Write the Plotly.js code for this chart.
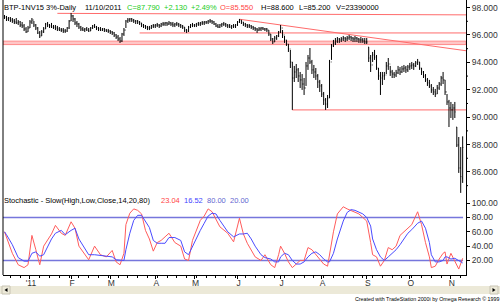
<!DOCTYPE html>
<html><head><meta charset="utf-8">
<script src="https://cdn.plot.ly/plotly-3.0.1.min.js"></script>
<style>html,body{margin:0;padding:0;background:#fff;}#chart{width:500px;height:303px;}</style>
</head><body><div id="chart"></div>
<script>
// ---- data ----
const opens = [97.38,97.31,97.17,97.24,97.09,97.02,96.95,96.88,96.95,96.73,
96.66,96.44,96.22,96.51,96.95,97.09,96.73,96.51,96.15,95.93,
96.22,96.44,96.80,96.73,96.66,96.58,96.58,96.51,96.44,96.36,
96.36,96.29,96.29,96.51,97.02,97.39,97.17,96.88,96.80,96.58,
96.44,96.36,96.44,96.36,96.29,96.51,96.66,96.58,96.51,96.44,
96.36,96.44,96.36,96.29,96.29,96.22,96.15,96.00,95.85,95.71,
95.56,96.07,96.36,97.02,97.09,97.17,97.09,97.02,97.02,96.95,
96.88,96.73,96.66,96.58,96.51,96.51,96.66,96.66,96.73,96.73,
96.66,96.80,96.80,96.88,96.80,96.88,96.80,96.73,96.80,96.80,
96.73,96.66,96.58,96.36,96.29,96.58,96.73,96.73,96.73,96.80,
96.80,96.88,96.88,96.95,96.95,97.02,97.02,96.95,96.80,96.66,
96.58,96.73,96.80,96.80,96.73,96.66,96.58,96.66,96.66,96.73,
96.95,97.09,96.95,96.80,96.73,96.66,96.66,96.58,96.51,96.44,
96.36,96.44,96.51,96.44,96.44,96.36,96.07,95.71,95.49,95.78,
95.93,96.22,96.51,96.00,95.64,95.34,94.98,94.03,92.86,93.30,
93.45,93.01,92.72,92.42,92.13,93.74,94.32,94.03,93.45,93.30,
93.01,92.57,92.28,91.69,91.26,90.96,91.40,94.03,95.20,95.42,
95.56,95.71,95.64,95.71,95.78,95.71,95.78,95.85,95.78,95.71,
95.78,95.71,95.64,95.64,95.56,95.49,95.12,94.32,93.81,94.54,
94.39,93.59,93.01,92.86,93.01,93.08,93.74,93.88,93.30,93.15,
93.08,93.23,93.45,93.30,93.52,93.59,93.45,93.66,93.74,93.81,
93.74,93.96,94.03,93.59,93.30,93.01,92.72,92.50,92.28,91.99,
91.84,91.69,92.13,92.42,92.86,92.72,91.84,91.11,90.67,90.53,
90.67,89.28,87.97,86.29,85.55];
const highs = [97.46,97.39,97.31,97.31,97.24,97.17,97.24,97.09,97.02,96.95,
96.80,96.58,96.66,97.09,97.24,97.02,96.80,96.58,96.29,96.36,
96.58,96.88,96.95,96.80,96.88,96.73,96.73,96.66,96.58,96.51,
96.51,96.44,96.58,97.09,97.61,97.46,97.24,97.02,96.88,96.66,
96.58,96.51,96.58,96.51,96.58,96.73,96.80,96.66,96.58,96.58,
96.51,96.51,96.44,96.44,96.36,96.29,96.22,96.07,96.00,95.85,
96.15,96.51,97.09,97.24,97.24,97.24,97.17,97.09,97.09,97.02,
96.88,96.80,96.73,96.66,96.66,96.73,96.80,96.80,96.88,96.80,
96.88,96.95,96.95,96.95,97.02,96.95,96.95,96.88,96.95,96.88,
96.80,96.73,96.58,96.44,96.66,96.80,96.88,96.80,96.88,96.95,
96.95,97.02,97.02,97.02,97.09,97.17,97.09,97.02,96.88,96.80,
96.80,96.88,96.95,96.88,96.80,96.80,96.73,96.80,96.80,97.02,
97.17,97.09,96.95,96.88,96.80,96.80,96.73,96.66,96.58,96.51,
96.58,96.58,96.58,96.51,96.51,96.36,96.07,95.78,95.93,96.00,
96.29,96.73,96.36,95.93,95.64,95.34,94.91,94.03,93.74,93.88,
93.59,93.30,93.15,92.86,94.03,94.54,95.05,94.18,93.81,93.59,
93.15,92.72,92.42,91.84,91.40,91.62,94.18,95.34,95.64,95.78,
95.85,95.78,95.85,95.93,95.85,95.93,96.00,95.93,95.85,95.93,
95.85,95.78,95.85,95.78,95.78,95.78,95.12,94.54,94.76,94.91,
94.54,93.59,93.30,93.30,93.30,94.03,94.32,93.74,93.45,93.30,
93.45,93.74,93.66,93.74,93.81,93.74,93.81,93.96,94.03,93.96,
94.10,94.25,94.03,93.59,93.37,93.15,92.86,92.72,92.42,92.20,
92.06,92.35,92.57,93.01,93.30,92.72,91.69,91.26,91.11,90.96,
91.11,89.28,88.55,87.82,88.60];
const lows = [97.17,97.02,97.02,96.95,96.88,96.80,96.80,96.73,96.58,96.51,
96.29,96.15,96.22,96.51,96.80,96.58,96.36,96.07,95.78,95.93,
96.15,96.44,96.58,96.51,96.51,96.44,96.36,96.29,96.29,96.22,
96.15,96.15,96.22,96.44,97.02,96.95,96.73,96.58,96.44,96.29,
96.29,96.22,96.29,96.22,96.29,96.44,96.51,96.36,96.29,96.29,
96.29,96.22,96.22,96.15,96.07,96.00,95.85,95.71,95.56,95.42,
95.49,95.93,96.51,96.88,96.95,96.95,96.88,96.80,96.80,96.73,
96.58,96.51,96.44,96.36,96.36,96.44,96.51,96.51,96.58,96.51,
96.58,96.66,96.66,96.66,96.73,96.66,96.58,96.58,96.66,96.58,
96.51,96.44,96.22,96.15,96.22,96.51,96.58,96.58,96.58,96.66,
96.66,96.73,96.73,96.80,96.80,96.88,96.80,96.73,96.58,96.51,
96.51,96.58,96.66,96.58,96.51,96.51,96.44,96.51,96.51,96.66,
96.88,96.80,96.66,96.58,96.51,96.51,96.44,96.36,96.29,96.15,
96.29,96.29,96.36,96.29,96.22,95.93,95.56,95.34,95.49,95.64,
95.85,96.15,95.78,95.42,95.20,94.76,93.59,90.53,92.57,92.86,
92.57,92.13,91.99,91.62,92.28,93.45,93.88,93.15,92.86,92.72,
92.13,91.84,91.47,90.89,90.53,90.67,91.40,94.18,95.12,95.27,
95.42,95.42,95.49,95.56,95.49,95.56,95.64,95.56,95.49,95.49,
95.49,95.42,95.42,95.42,95.34,95.34,94.03,93.30,94.03,94.18,
93.45,92.72,91.62,92.35,92.72,93.15,93.45,93.01,92.86,92.86,
92.93,93.15,93.08,93.23,93.30,93.23,93.30,93.45,93.52,93.45,
93.66,93.81,93.45,93.08,92.86,92.57,92.28,92.13,91.77,91.62,
91.47,91.69,91.99,92.28,92.42,91.62,90.89,89.28,89.94,89.80,
89.94,87.82,85.93,84.47,85.20];
const closes = [97.31,97.17,97.24,97.09,97.02,96.95,96.88,96.95,96.73,96.66,
96.44,96.22,96.51,96.95,97.09,96.73,96.51,96.15,95.93,96.22,
96.44,96.80,96.73,96.66,96.58,96.58,96.51,96.44,96.36,96.36,
96.29,96.29,96.51,97.02,97.39,97.17,96.88,96.80,96.58,96.44,
96.36,96.44,96.36,96.29,96.51,96.66,96.58,96.51,96.44,96.36,
96.44,96.36,96.29,96.29,96.22,96.15,96.00,95.85,95.71,95.56,
96.07,96.36,97.02,97.09,97.17,97.09,97.02,97.02,96.95,96.88,
96.73,96.66,96.58,96.51,96.51,96.66,96.66,96.73,96.73,96.66,
96.80,96.80,96.88,96.80,96.88,96.80,96.73,96.80,96.80,96.73,
96.66,96.58,96.36,96.29,96.58,96.73,96.73,96.73,96.80,96.80,
96.88,96.88,96.95,96.95,97.02,97.02,96.95,96.80,96.66,96.58,
96.73,96.80,96.80,96.73,96.66,96.58,96.66,96.66,96.73,96.95,
97.09,96.95,96.80,96.73,96.66,96.66,96.58,96.51,96.44,96.36,
96.44,96.51,96.44,96.44,96.36,96.07,95.71,95.49,95.78,95.93,
96.22,96.51,96.00,95.64,95.34,94.98,94.03,92.86,93.30,93.45,
93.01,92.72,92.42,92.13,93.74,94.32,94.03,93.45,93.30,93.01,
92.57,92.28,91.69,91.26,90.96,91.40,94.03,95.20,95.42,95.56,
95.71,95.64,95.71,95.78,95.71,95.78,95.85,95.78,95.71,95.78,
95.71,95.64,95.64,95.56,95.49,95.49,94.32,93.81,94.54,94.39,
93.59,93.01,92.86,93.01,93.08,93.74,93.88,93.30,93.15,93.08,
93.23,93.45,93.30,93.52,93.59,93.45,93.66,93.74,93.81,93.74,
93.96,94.03,93.59,93.30,93.01,92.72,92.50,92.28,91.99,91.84,
91.69,92.13,92.42,92.86,92.72,91.84,91.11,90.67,90.53,90.67,
90.38,87.97,86.29,85.66,87.79];

const monthTickIdx  = [13,34,54,77,97,119,141,162,185,207,228];
const monthTickText = ["'11","F","M","A","M","J","J","A","S","O","N"];

const stochIdx = [0,1,4,7,10,12,14,16,18,20,24,26,29,31,34,36,38,43,46,49,52,55,57,59,61,62,64,66,68,70,72,74,76,78,80,82,84,87,90,92,94,96,100,102,104,106,108,110,114,117,120,122,124,126,128,131,133,136,138,140,141,143,145,147,149,151,153,155,157,159,161,163,165,166,168,170,173,175,177,179,181,183,185,187,188,190,192,194,196,198,200,202,204,206,208,211,213,215,217,218,220,222,224,225,226,228,230,232,234];
const slowK = [60,53,30,14,10,14,55,35,14,40,57,69,58,55,74,65,40,21,40,28,25,34,18,14,30,70,86,92,90,85,62,50,33,45,48,53,58,45,40,22,20,48,76,82,92,88,78,67,58,46,79,57,44,35,25,20,28,14,10,28,40,30,18,10,15,20,20,38,35,28,22,15,12,30,60,85,95,92,90,88,85,80,75,45,28,25,12,20,38,35,40,55,60,65,70,88,70,45,25,10,12,22,30,32,15,30,18,8,23.04];
const slowD = [60,56,42,24,19,19,30,32,26,28,50,58,62,56,62,65,50,28,28,27,25,25,21,20,20,35,58,76,83,83,75,66,48,44,44,44,52,52,48,32,28,40,62,72,82,86,85,76,60,53,57,57,58,50,40,28,24,22,18,18,25,30,28,20,15,15,18,25,30,32,28,22,18,18,30,50,75,87,91,90,88,85,80,68,50,35,25,20,25,30,35,42,50,58,63,72,75,65,45,28,18,18,20,25,25,22,23,20,16.52];

const priceTicks = [86,88,90,92,94,96,98];
const priceMinorTicks = [85,87,89,91,93,95,97];
const stochTicks = [20,40,60,80,100];

// ---- layout helpers (pixel placement) ----
const L=3, R=466, T=0, B=275;
const PX = px => (px-L)/(R-L);
const PY = py => (B-py)/(B-T);
const FONT = "Liberation Sans, Arial, sans-serif";
const barIndex = closes.map((_, i) => i);
const xEnd = 235.7, xStart = -0.77;

function ann(text, px, py, color, size, anchor) {
  return {text, xref:'paper', yref:'paper', x:PX(px), y:PY(py), xanchor:anchor||'left', yanchor:'middle',
    showarrow:false, borderpad:0, font:{family:FONT, size:size||7.5, color:color||'#000'}};
}

const traces = [
  {type:'ohlc', x:barIndex, open:opens, high:highs, low:lows, close:closes, xaxis:'x', yaxis:'y',
   increasing:{line:{color:'#000', width:1}}, decreasing:{line:{color:'#000', width:1}}, tickwidth:0.3, hoverinfo:'skip'},
  {type:'scatter', mode:'lines', x:stochIdx, y:slowK, xaxis:'x', yaxis:'y2', line:{color:'#ff5c5c', width:1}, hoverinfo:'skip'},
  {type:'scatter', mode:'lines', x:stochIdx, y:slowD, xaxis:'x', yaxis:'y2', line:{color:'#4b4bff', width:1}, hoverinfo:'skip'}
];

const red = '#ff6b6b';
const shapes = [
  {type:'rect', xref:'x', yref:'y', x0:xStart, x1:xEnd, y0:95.30, y1:95.55, fillcolor:'#ffc6c6', line:{color:'#ff8a8a', width:1}, layer:'below'},
  {type:'line', xref:'x', yref:'y', x0:27, y0:97.58, x1:xEnd, y1:97.47, line:{color:red, width:1}, layer:'below'},
  {type:'line', xref:'x', yref:'y', x0:69, y0:96.15, x1:xEnd, y1:96.15, line:{color:red, width:1}, layer:'below'},
  {type:'line', xref:'x', yref:'y', x0:120, y0:97.15, x1:xEnd, y1:94.85, line:{color:red, width:1}, layer:'below'},
  {type:'line', xref:'x', yref:'y', x0:147, y0:90.53, x1:xEnd, y1:90.53, line:{color:red, width:1}, layer:'below'},
  {type:'line', xref:'x', yref:'y2', x0:xStart, y0:80, x1:234.2, y1:80, line:{color:'#7676dc', width:1.5}, layer:'below'},
  {type:'line', xref:'x', yref:'y2', x0:xStart, y0:20, x1:234.2, y1:20, line:{color:'#7676dc', width:1.5}, layer:'below'},
  // left frame line
  {type:'line', xref:'paper', yref:'paper', x0:0, x1:0, y0:0, y1:1, line:{color:'#000', width:1}},
  // scrollbar
  {type:'rect', xref:'paper', yref:'paper', x0:PX(0), x1:PX(500), y0:PY(294), y1:PY(286), fillcolor:'#ece9d8', line:{width:0}},
  {type:'rect', xref:'paper', yref:'paper', x0:PX(2), x1:PX(10), y0:PY(294), y1:PY(286), fillcolor:'#ece9d8', line:{color:'#c8c4b4', width:1}},
  {type:'rect', xref:'paper', yref:'paper', x0:PX(490), x1:PX(498), y0:PY(294), y1:PY(286), fillcolor:'#ece9d8', line:{color:'#c8c4b4', width:1}},
  {type:'path', xref:'paper', yref:'paper', path:`M ${PX(7.5)},${PY(288)} L ${PX(4.5)},${PY(290)} L ${PX(7.5)},${PY(292)} Z`, fillcolor:'#000', line:{width:0}},
  {type:'path', xref:'paper', yref:'paper', path:`M ${PX(492.5)},${PY(288)} L ${PX(495.5)},${PY(290)} L ${PX(492.5)},${PY(292)} Z`, fillcolor:'#000', line:{width:0}}
].concat(priceMinorTicks.map(v => ({type:'line', xref:'paper', yref:'y', x0:1, x1:PX(468), y0:v, y1:v, line:{color:'#000', width:1}})));

const annotations = [
  ann('BTP-1NV15 3%-Daily', 3, 7),
  ann('11/10/2011', 84, 7),
  ann('C=87.790', 126, 7, '#22cc22'),
  ann('+2.130', 163, 7, '#22cc22'),
  ann('+2.49%', 190, 7, '#22cc22'),
  ann('O=85.550', 219, 7, '#ff4444'),
  ann('H=88.600', 260, 7),
  ann('L=85.200', 298, 7),
  ann('V=23390000', 335, 7),
  ann('Stochastic - Slow(High,Low,Close,14,20,80)', 3, 200),
  ann('23.04', 160, 200, '#ff4444'),
  ann('16.52', 183, 200, '#4444ff'),
  ann('80.00', 206, 200, '#6464d0'),
  ann('20.00', 229, 200, '#6464d0'),
  ann('Created with TradeStation 2000i by Omega Research \u00a9 1999', 500, 298.5, '#000', 5.3, 'right')
];

const axisCommon = {showgrid:false, zeroline:false, fixedrange:true, linecolor:'#000', linewidth:1,
  tickcolor:'#000', tickfont:{family:FONT, size:8.5, color:'#333'}};

const layout = {
  width:500, height:303, margin:{l:L, r:500-R, t:T, b:303-B, pad:0},
  paper_bgcolor:'#fff', plot_bgcolor:'#fff', showlegend:false, hovermode:false,
  xaxis:Object.assign({}, axisCommon, {domain:[0,1], range:[xStart, xEnd], anchor:'y2', showline:true,
    ticks:'outside', ticklen:3, tickvals:monthTickIdx, ticktext:monthTickText, ticklabelshift:1, ticklabelstandoff:-3,
    rangeslider:{visible:false},
    minor:{tickmode:'linear', tick0:13, dtick:5, ticks:'outside', ticklen:2, tickcolor:'#000'}}),
  yaxis:Object.assign({}, axisCommon, {domain:[PY(194),1], range:[84.39, 96+(35-T)/13.7], anchor:'x', side:'right',
    showline:true, ticks:'outside', ticklen:3,
    tickvals:priceTicks, ticktext:priceTicks.map(v => v.toFixed(3))}),
  yaxis2:Object.assign({}, axisCommon, {domain:[0,PY(194)], range:[-0.3, 112.8], anchor:'x', side:'right',
    showline:true, ticks:'outside', ticklen:3,
    tickvals:stochTicks, ticktext:stochTicks.map(v=>v.toFixed(2))}),
  shapes, annotations
};

Plotly.newPlot('chart', traces, layout, {staticPlot:true, displayModeBar:false});
</script>
</body></html>
